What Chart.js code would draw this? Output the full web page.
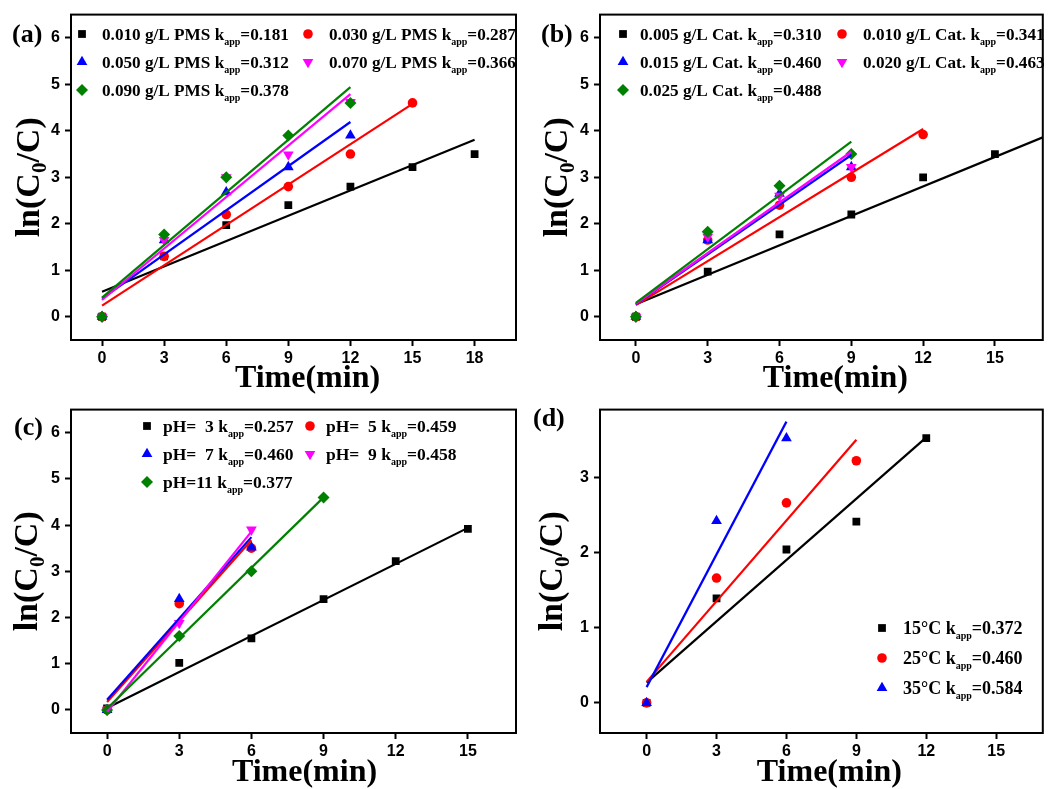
<!DOCTYPE html>
<html>
<head>
<meta charset="utf-8">
<script src="https://cdn.jsdelivr.net/npm/chart.js@4.4.0/dist/chart.umd.min.js"></script>
<style>
  body { margin: 0; background: #fff; }
  .panel { position: absolute; }
</style>
</head>
<body>
<div class="panel" style="left:0;top:0"><canvas id="pa" width="525" height="395"></canvas></div>
<div class="panel" style="left:525px;top:0"><canvas id="pb" width="524" height="395"></canvas></div>
<div class="panel" style="left:0;top:395px"><canvas id="pc" width="525" height="394"></canvas></div>
<div class="panel" style="left:525px;top:395px"><canvas id="pd" width="524" height="394"></canvas></div>
<script>
// ---- (a) PMS dosage ----
const timeA = [0, 3, 6, 9, 12, 15, 18];
const xTicksA = [0, 3, 6, 9, 12, 15, 18];
const labelsA = ['0.010 g/L PMS', '0.030 g/L PMS', '0.050 g/L PMS', '0.070 g/L PMS', '0.090 g/L PMS'];
const kappA = ['0.181', '0.287', '0.312', '0.366', '0.378'];
const a010 = [0, 1.30, 1.97, 2.40, 2.80, 3.22, 3.50];
const a030 = [0, 1.30, 2.20, 2.80, 3.50, 4.60];
const a050 = [0, 1.65, 2.68, 3.22, 3.90];
const a070 = [0, 1.65, 3.00, 3.49, 4.62];
const a090 = [0, 1.77, 3.00, 3.90, 4.60];
const fitStartA = [0.54, 0.24, 0.39, 0.36, 0.41];
const fitEndA = [3.81, 4.58, 4.19, 4.79, 4.94];
const fitEndTimeA = [18, 15, 12, 12, 12];

// ---- (b) catalyst dosage ----
const timeB = [0, 3, 6, 9, 12, 15];
const xTicksB = [0, 3, 6, 9, 12, 15];
const labelsB = ['0.005 g/L Cat.', '0.010 g/L Cat.', '0.015 g/L Cat.', '0.020 g/L Cat.', '0.025 g/L Cat.'];
const kappB = ['0.310', '0.341', '0.460', '0.463', '0.488'];
const b005 = [0, 0.97, 1.77, 2.20, 3.00, 3.50];
const b010 = [0, 1.65, 2.40, 3.00, 3.92];
const b015 = [0, 1.65, 2.65, 3.22];
const b020 = [0, 1.72, 2.60, 3.22];
const b025 = [0, 1.83, 2.82, 3.50];
const fitStartB = [0.27, 0.25, 0.27, 0.28, 0.30];
const fitEndB = [3.86, 4.04, 3.48, 3.55, 3.77];
const fitEndTimeB = [17, 12, 9, 9, 9];

// ---- (c) pH ----
const timeC = [0, 3, 6, 9, 12, 15];
const xTicksC = [0, 3, 6, 9, 12, 15];
const labelsC = ['pH=  3', 'pH=  5', 'pH=  7', 'pH=  9', 'pH=11'];
const kappC = ['0.257', '0.459', '0.460', '0.458', '0.377'];
const c3 = [0.03, 1.02, 1.55, 2.40, 3.22, 3.92];
const c5 = [0, 2.30, 3.50];
const c7 = [0, 2.40, 3.52];
const c9 = [0, 1.88, 3.90];
const c11 = [0, 1.60, 3.00, 4.60];
const fitStartC = [0.04, 0.17, 0.22, -0.04, 0.03];
const fitEndC = [3.94, 3.67, 3.74, 3.86, 4.60];
const fitEndTimeC = [15, 6, 6, 6, 9];

// ---- (d) temperature ----
const timeD = [0, 3, 6, 9, 12];
const xTicksD = [0, 3, 6, 9, 12, 15];
const labelsD = ['15°C', '25°C', '35°C'];
const kappD = ['0.372', '0.460', '0.584'];
const d15 = [0, 1.39, 2.04, 2.41, 3.52];
const d25 = [0, 1.66, 2.66, 3.22];
const d35 = [0, 2.42, 3.52];
const fitStartD = [0.27, 0.28, 0.21];
const fitEndD = [3.53, 3.50, 3.74];
const fitEndTimeD = [12, 9, 6];

const yTicks6 = [0, 1, 2, 3, 4, 5, 6];
const yTicks3 = [0, 1, 2, 3];

const colors = ['#000000', '#ff0000', '#0000ff', '#ff00ff', '#008000'];
const shapes = ['rect', 'circle', 'triangle', 'triangle', 'rectRot'];
const rots = [0, 0, 0, 180, 0];
const sizes = [5.5, 4.8, 6.2, 6.2, 6];

const serif = '"Liberation Serif", "Times New Roman", serif';
const sans = '"Liberation Sans", Arial, sans-serif';

function marker(ctx, i, x, y) {
  ctx.fillStyle = colors[i];
  Chart.helpers.drawPoint(ctx, {
    pointStyle: shapes[i], rotation: rots[i], radius: sizes[i], borderWidth: 0
  }, x, y);
}

const decor = {
  id: 'decor',
  afterDraw(chart, args, o) {
    const ctx = chart.ctx;
    const a = chart.chartArea;
    ctx.save();
    ctx.strokeStyle = '#000';
    ctx.lineWidth = 2;
    ctx.strokeRect(a.left, a.top, a.right - a.left, a.bottom - a.top);
    ctx.fillStyle = '#000';

    // panel tag
    ctx.font = 'bold 26px ' + serif;
    ctx.textAlign = 'left';
    ctx.textBaseline = 'middle';
    ctx.fillText(o.tag, o.tagX, o.tagY);

    // x title
    ctx.textBaseline = 'alphabetic';
    ctx.textAlign = 'center';
    ctx.font = 'bold 32px ' + serif;
    ctx.fillText('Time(min)', (a.left + a.right) / 2 + o.titleDx, o.titleY);

    // y title ln(C0/C)
    ctx.save();
    ctx.translate(o.yTitleX, (a.top + a.bottom) / 2);
    ctx.rotate(-Math.PI / 2);
    ctx.textAlign = 'left';
    const main = 'bold 34px ' + serif, sub = 'bold 21px ' + serif;
    ctx.font = main;
    const w1 = ctx.measureText('ln(C').width, w3 = ctx.measureText('/C)').width;
    ctx.font = sub;
    const w2 = ctx.measureText('0').width;
    let x = -(w1 + w2 + w3) / 2;
    ctx.font = main; ctx.fillText('ln(C', x, 9); x += w1;
    ctx.font = sub; ctx.fillText('0', x, 16); x += w2;
    ctx.font = main; ctx.fillText('/C)', x, 9);
    ctx.restore();

    // legend
    o.items.forEach((it, i) => {
      const col = i % o.cols, row = Math.floor(i / o.cols);
      const mx = o.colX[col], ty = o.rowY0 + row * o.rowGap;
      marker(ctx, i, mx, ty);
      let tx = o.textX[col];
      const bl = ty + 6;
      ctx.fillStyle = '#000';
      ctx.textAlign = 'left';
      ctx.font = 'bold ' + o.fs + 'px ' + serif;
      const t1 = it.label + ' k';
      ctx.fillText(t1, tx, bl);
      tx += ctx.measureText(t1).width;
      ctx.font = 'bold 10px ' + serif;
      ctx.fillText('app', tx, bl + 5);
      tx += ctx.measureText('app').width;
      ctx.font = 'bold ' + o.fs + 'px ' + serif;
      ctx.fillText('=' + it.k, tx, bl);
    });
    ctx.restore();
  }
};

function panel(id, p) {
  const datasets = [];
  p.series.forEach((ys, i) => {
    datasets.push({
      data: ys.map((y, j) => ({ x: p.time[j], y: y })),
      pointStyle: shapes[i],
      pointRotation: rots[i],
      pointRadius: sizes[i],
      pointBackgroundColor: colors[i],
      pointBorderWidth: 0,
      order: 100 - i
    });
    datasets.push({
      data: [{ x: 0, y: p.fitStart[i] }, { x: p.fitEndTime[i], y: p.fitEnd[i] }],
      showLine: true,
      pointRadius: 0,
      borderColor: colors[i],
      borderWidth: 2.2,
      order: 50 - i
    });
  });
  const tickFont = { family: sans, weight: 'bold', size: 16 };
  return new Chart(document.getElementById(id), {
    type: 'scatter',
    data: { datasets: datasets },
    plugins: [decor],
    options: {
      responsive: false,
      animation: false,
      events: [],
      layout: { padding: { top: p.area.top, right: p.area.right, left: 0, bottom: 0 } },
      scales: {
        x: {
          type: 'linear',
          min: p.xRange[0], max: p.xRange[1],
          afterBuildTicks: s => { s.ticks = p.xTicks.map(v => ({ value: v })); },
          afterFit: s => { s.height = p.area.xh; },
          grid: { drawOnChartArea: false, tickLength: 6, tickWidth: 2, tickColor: '#000' },
          border: { color: '#000', width: 2 },
          ticks: { color: '#000', font: tickFont, padding: 3, maxRotation: 0 }
        },
        y: {
          type: 'linear',
          min: p.yRange[0], max: p.yRange[1],
          afterBuildTicks: s => { s.ticks = p.yTicks.map(v => ({ value: v })); },
          afterFit: s => { s.width = p.area.yw; },
          grid: { drawOnChartArea: false, tickLength: 6, tickWidth: 2, tickColor: '#000' },
          border: { color: '#000', width: 2 },
          ticks: { color: '#000', font: tickFont, padding: 5 }
        }
      },
      plugins: {
        legend: { display: false },
        tooltip: { enabled: false },
        decor: p.decor
      }
    }
  });
}

const items = (labels, ks) => labels.map((l, i) => ({ label: l, k: ks[i] }));

panel('pa', {
  time: timeA, xTicks: xTicksA, yTicks: yTicks6,
  xRange: [-1.5, 20], yRange: [-0.5, 6.5],
  series: [a010, a030, a050, a070, a090],
  fitStart: fitStartA, fitEnd: fitEndA, fitEndTime: fitEndTimeA,
  area: { top: 13, right: 9, yw: 71, xh: 55 },
  decor: {
    tag: '(a)', tagX: 12, tagY: 35, titleDx: 14, titleY: 387, yTitleX: 30,
    items: items(labelsA, kappA), cols: 2, colX: [82, 308], textX: [102, 329],
    rowY0: 34, rowGap: 28, fs: 17.2
  }
});

panel('pb', {
  time: timeB, xTicks: xTicksB, yTicks: yTicks6,
  xRange: [-1.5, 17], yRange: [-0.5, 6.5],
  series: [b005, b010, b015, b020, b025],
  fitStart: fitStartB, fitEnd: fitEndB, fitEndTime: fitEndTimeB,
  area: { top: 13, right: 3, yw: 75, xh: 55 },
  decor: {
    tag: '(b)', tagX: 16, tagY: 35, titleDx: 14, titleY: 387, yTitleX: 33,
    items: items(labelsB, kappB), cols: 2, colX: [98, 317], textX: [115, 338],
    rowY0: 34, rowGap: 28, fs: 17.2
  }
});

panel('pc', {
  time: timeC, xTicks: xTicksC, yTicks: yTicks6,
  xRange: [-1.5, 17], yRange: [-0.5, 6.5],
  series: [c3, c5, c7, c9, c11],
  fitStart: fitStartC, fitEnd: fitEndC, fitEndTime: fitEndTimeC,
  area: { top: 12, right: 9, yw: 71, xh: 56 },
  decor: {
    tag: '(c)', tagX: 14, tagY: 33, titleDx: 11, titleY: 386, yTitleX: 28,
    items: items(labelsC, kappC), cols: 2, colX: [147, 310], textX: [163, 326],
    rowY0: 31, rowGap: 28, fs: 17.5
  }
});

panel('pd', {
  time: timeD, xTicks: xTicksD, yTicks: yTicks3,
  xRange: [-2, 17], yRange: [-0.4, 3.9],
  series: [d15, d25, d35],
  fitStart: fitStartD, fitEnd: fitEndD, fitEndTime: fitEndTimeD,
  area: { top: 11, right: 3, yw: 75, xh: 56 },
  decor: {
    tag: '(d)', tagX: 8, tagY: 24, titleDx: 8, titleY: 386, yTitleX: 28,
    items: items(labelsD, kappD), cols: 1, colX: [357], textX: [378],
    rowY0: 233, rowGap: 30, fs: 18
  }
});
</script>
</body>
</html>
